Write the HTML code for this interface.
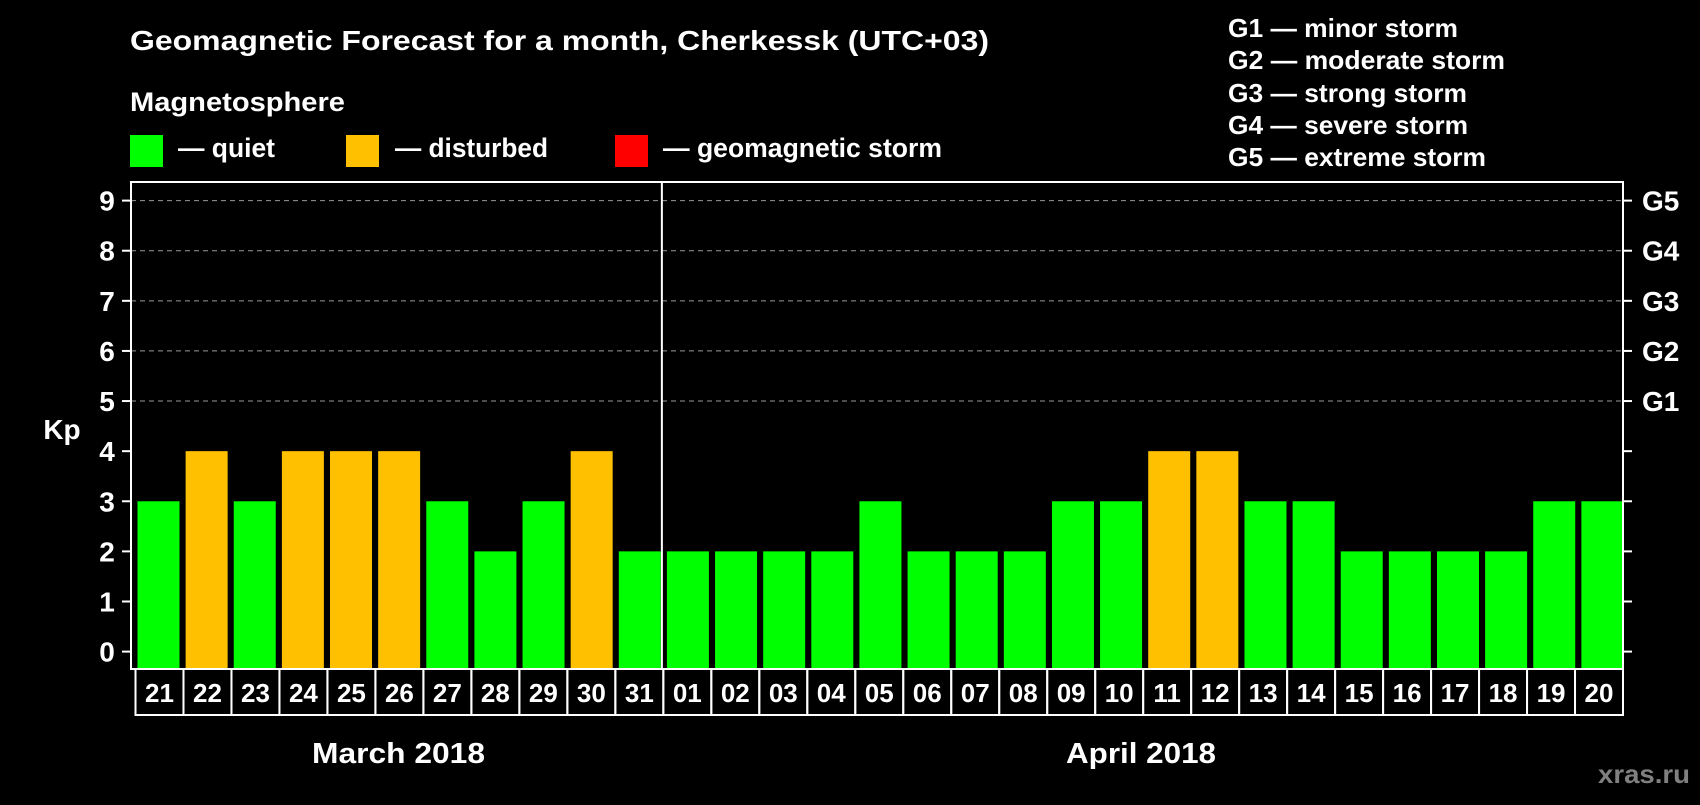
<!DOCTYPE html>
<html><head><meta charset="utf-8"><style>
body{margin:0;background:#000;width:1700px;height:800px;overflow:hidden;font-family:"Liberation Sans",Arial,sans-serif;}
svg text{font-family:"Liberation Sans",Arial,sans-serif;font-weight:bold;fill:#fff;}
</style></head><body>
<svg width="1700" height="800" xmlns="http://www.w3.org/2000/svg">
<text x="130" y="50" font-size="28" textLength="859" lengthAdjust="spacingAndGlyphs">Geomagnetic Forecast for a month, Cherkessk (UTC+03)</text>
<text x="130" y="111" font-size="27" textLength="215" lengthAdjust="spacingAndGlyphs">Magnetosphere</text>
<rect x="130" y="135" width="33" height="32" fill="#00ff00"/>
<text x="178" y="157" font-size="27" textLength="97" lengthAdjust="spacingAndGlyphs">— quiet</text>
<rect x="346" y="135" width="33" height="32" fill="#ffc000"/>
<text x="395" y="157" font-size="27" textLength="153" lengthAdjust="spacingAndGlyphs">— disturbed</text>
<rect x="615" y="135" width="33" height="32" fill="#ff0000"/>
<text x="663" y="157" font-size="27" textLength="279" lengthAdjust="spacingAndGlyphs">— geomagnetic storm</text>
<g font-size="26">
<text x="1228" y="37" textLength="230" lengthAdjust="spacingAndGlyphs">G1 — minor storm</text>
<text x="1228" y="69" textLength="277" lengthAdjust="spacingAndGlyphs">G2 — moderate storm</text>
<text x="1228" y="102" textLength="239" lengthAdjust="spacingAndGlyphs">G3 — strong storm</text>
<text x="1228" y="134" textLength="240" lengthAdjust="spacingAndGlyphs">G4 — severe storm</text>
<text x="1228" y="166" textLength="258" lengthAdjust="spacingAndGlyphs">G5 — extreme storm</text>
</g>
<g id="plot"></g>
<text x="312" y="763" font-size="29" textLength="173" lengthAdjust="spacingAndGlyphs">March 2018</text>
<text x="1066" y="763" font-size="29" textLength="150" lengthAdjust="spacingAndGlyphs">April 2018</text>
<text x="1598" y="783" font-size="26" textLength="92" lengthAdjust="spacingAndGlyphs" style="fill:#808080">xras.ru</text>
</svg>
<script>
const days=["21","22","23","24","25","26","27","28","29","30","31","01","02","03","04","05","06","07","08","09","10","11","12","13","14","15","16","17","18","19","20"];
const kp=[3,4,3,4,4,4,3,2,3,4,2,2,2,2,2,3,2,2,2,3,3,4,4,3,3,2,2,2,2,3,3];
const yTicks=[0,1,2,3,4,5,6,7,8,9];
const gLabels=["G1","G2","G3","G4","G5"];
const NS="http://www.w3.org/2000/svg";
const L=131,R=1623,T=182,B=669,n=days.length,sw=(R-L)/n;
const y=v=>651.6-v*(451/9);
const x=i=>L+i*sw;
const g=document.getElementById('plot');
function mk(t,a){const e=document.createElementNS(NS,t);for(const k in a)e.setAttribute(k,a[k]);g.appendChild(e);return e;}
yTicks.forEach(v=>{
 if(v>=5){const l=mk('line',{x1:L,x2:R,y1:y(v),y2:y(v),stroke:'#999','stroke-dasharray':'5,4','stroke-width':1});
 
 }
 const t1=mk('line',{x1:L-9,x2:L,y1:y(v),y2:y(v),stroke:'#fff','stroke-width':2});
 
 
 const t2=mk('line',{x1:R,x2:R+9,y1:y(v),y2:y(v),stroke:'#fff','stroke-width':2});
 
 
 const tx=mk('text',{x:107,y:y(v)+10,'font-size':28,'text-anchor':'middle'});tx.textContent=v;
 
 
});
gLabels.forEach((s,i)=>{const t=mk('text',{x:1642,y:y(5+i)+10,'font-size':28});t.textContent=s;
 
 });
const kl=mk('text',{x:62,y:439,'font-size':28,'text-anchor':'middle'});kl.textContent='Kp';


days.forEach((d,i)=>{
 const v=kp[i];
 const c=v>=5?'#ff0000':(v>=4?'#ffc000':'#00ff00');
 const b=mk('rect',{x:x(i)+6.5,y:y(v),width:42,height:B-y(v),fill:c});
 
 
 const bw=(R-135.5)/n;
 const bx=mk('rect',{x:135.5+i*bw,y:B,width:bw,height:46,fill:'none',stroke:'#fff','stroke-width':2});
 
 
 const t=mk('text',{x:135.5+i*bw+bw/2,y:B+33,'font-size':26,'text-anchor':'middle'});t.textContent=d;
 
 
});
const fr=mk('rect',{x:L,y:T,width:R-L,height:B-T,fill:'none',stroke:'#fff','stroke-width':2});


const dvx=(x(11)+135.5+11*(R-135.5)/n)/2;
const dv=mk('line',{x1:dvx,x2:dvx,y1:T,y2:B,stroke:'#fff','stroke-width':2});


</script>
</body></html>
